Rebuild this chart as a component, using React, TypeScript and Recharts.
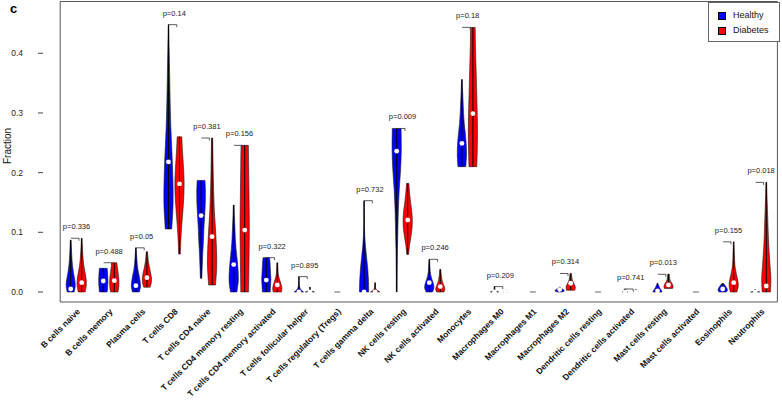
import React from 'react';
import { ComposedChart, Bar, Scatter, XAxis, YAxis, ReferenceArea, Legend } from 'recharts';

const FONT = "'Liberation Sans', Arial, Helvetica, sans-serif";

const cellTypes = [
  'B cells naive', 'B cells memory', 'Plasma cells', 'T cells CD8', 'T cells CD4 naive',
  'T cells CD4 memory resting', 'T cells CD4 memory activated', 'T cells follicular helper',
  'T cells regulatory (Tregs)', 'T cells gamma delta', 'NK cells resting', 'NK cells activated',
  'Monocytes', 'Macrophages M0', 'Macrophages M1', 'Macrophages M2', 'Dendritic cells resting',
  'Dendritic cells activated', 'Mast cells resting', 'Mast cells activated', 'Eosinophils', 'Neutrophils',
];

const pValues: (string | null)[] = [
  '0.336', '0.488', '0.05', '0.14', '0.381', '0.156', '0.322', '0.895', null, '0.732', '0.009',
  '0.246', '0.18', '0.209', null, '0.314', null, '0.741', '0.013', null, '0.155', '0.018',
];

const yTicks = [0, 0.1, 0.2, 0.3, 0.4];
const yDomain = [-0.0168, 0.4868];

// Healthy group: range, median, relative density from min (first) to max (last)
const healthyMin = [0, 0, 0, 0.1055, 0.023, 0, 0, 0, null, 0, 0, 0, 0.21, 0, null, 0, null, 0, 0, null, 0, 0];
const healthyMax = [0.087, 0.0397, 0.074, 0.448, 0.187, 0.1457, 0.0575, 0.0257, null, 0.153, 0.274, 0.0547, 0.356, 0.009, null, 0.008, null, 0.005, 0.0146, null, 0.014, 0.004];
const healthyMedian = [0.005, 0.0184, 0.0106, 0.218, 0.128, 0.046, 0.02, 0, null, 0, 0.236, 0.0156, 0.249, 0, null, 0.004, null, 0, 0.002, null, 0.005, 0];
const healthyDensity = [
  [0.75, 1, 0.85, 0.6, 0.4, 0.28, 0.2, 0.14, 0.08],
  [0.85, 0.9, 0.95, 1, 1, 0.98, 0.95, 0.9, 0.85],
  [0.75, 1, 0.9, 0.7, 0.45, 0.3, 0.2, 0.12, 0.06],
  [0.7, 1, 0.95, 0.75, 0.5, 0.35, 0.25, 0.15, 0.06],
  [0.15, 0.25, 0.35, 0.5, 0.6, 0.75, 0.9, 0.95, 0.85],
  [0.7, 1, 0.95, 0.75, 0.5, 0.35, 0.25, 0.15, 0.08],
  [0.85, 0.9, 0.95, 1, 0.95, 0.9, 0.85, 0.8, 0.7],
  [1, 0.5, 0.25, 0.12, 0.08, 0.06, 0.06, 0.06, 0.06],
  null,
  [1, 0.95, 0.8, 0.55, 0.3, 0.12, 0.06, 0.05, 0.04],
  [0.08, 0.1, 0.15, 0.25, 0.35, 0.55, 0.85, 1, 0.95],
  [0.7, 1, 0.9, 0.6, 0.35, 0.2, 0.15, 0.1, 0.06],
  [0.85, 1, 0.95, 0.75, 0.5, 0.35, 0.25, 0.15, 0.08],
  [0.9, 0.5, 0.25, 0.15, 0.1, 0.1, 0.1, 0.1, 0.1],
  null,
  [0.5, 0.9, 1, 0.95, 0.8, 0.6, 0.4, 0.25, 0.1],
  null,
  [0.6, 0.4, 0.3, 0.2, 0.2, 0.2, 0.2, 0.2, 0.2],
  [1, 0.9, 0.75, 0.6, 0.45, 0.35, 0.25, 0.15, 0.1],
  null,
  [0.7, 1, 1, 0.95, 0.85, 0.7, 0.55, 0.4, 0.2],
  [1, 0.6, 0.3, 0.15, 0.1, 0.1, 0.1, 0.1, 0.1],
];

// Diabetes group
const diabetesMin = [0, 0, 0.008, 0.0636, 0.0117, 0, 0, 0, null, 0, 0.063, 0, 0.21, 0, null, 0.003, null, 0, 0.006, null, 0, 0];
const diabetesMax = [0.09, 0.049, 0.0675, 0.26, 0.258, 0.2457, 0.049, 0.008, null, 0.0156, 0.182, 0.038, 0.4434, 0.003, null, 0.031, null, 0.004, 0.0297, null, 0.084, 0.1837];
const diabetesMedian = [0.0156, 0.019, 0.024, 0.181, 0.0927, 0.1038, 0.0117, 0, null, 0, 0.1206, 0.009, 0.299, 0, null, 0.0146, null, 0, 0.0117, null, 0.0156, 0.01];
const diabetesDensity = [
  [0.75, 1, 0.95, 0.7, 0.45, 0.3, 0.2, 0.12, 0.08],
  [0.8, 0.95, 1, 1, 0.95, 0.85, 0.75, 0.65, 0.55],
  [0.7, 0.95, 1, 0.85, 0.65, 0.45, 0.3, 0.2, 0.12],
  [0.2, 0.3, 0.5, 0.75, 0.95, 1, 0.85, 0.65, 0.5],
  [0.75, 1, 0.95, 0.75, 0.5, 0.35, 0.25, 0.18, 0.12],
  [0.85, 0.9, 0.95, 1, 1, 0.95, 0.9, 0.85, 0.8],
  [0.9, 1, 0.85, 0.6, 0.35, 0.2, 0.15, 0.12, 0.1],
  [1, 0.6, 0.3, 0.15, 0.1, 0.08, 0.08, 0.08, 0.08],
  null,
  [1, 0.6, 0.3, 0.15, 0.1, 0.08, 0.07, 0.06, 0.05],
  [0.2, 0.4, 0.7, 0.95, 1, 0.85, 0.6, 0.4, 0.25],
  [0.8, 1, 0.85, 0.6, 0.4, 0.3, 0.2, 0.15, 0.1],
  [0.85, 0.95, 1, 0.95, 0.85, 0.75, 0.65, 0.55, 0.5],
  [0.5, 0.3, 0.2, 0.2, 0.2, 0.2, 0.2, 0.2, 0.2],
  null,
  [0.9, 1, 0.95, 0.75, 0.5, 0.35, 0.25, 0.2, 0.15],
  null,
  [0.5, 0.3, 0.2, 0.2, 0.2, 0.2, 0.2, 0.2, 0.2],
  [0.9, 1, 0.9, 0.7, 0.45, 0.3, 0.25, 0.2, 0.2],
  null,
  [0.7, 1, 0.85, 0.55, 0.3, 0.2, 0.15, 0.1, 0.06],
  [0.9, 1, 0.8, 0.6, 0.45, 0.35, 0.25, 0.15, 0.08],
];

const tableData = cellTypes.map((name, i) => ({
  name,
  healthy: healthyMin[i] == null ? null : [healthyMin[i], healthyMax[i]],
  healthyMedian: healthyMedian[i],
  healthyDensity: healthyDensity[i],
  diabetes: diabetesMin[i] == null ? null : [diabetesMin[i], diabetesMax[i]],
  diabetesMedian: diabetesMedian[i],
  diabetesDensity: diabetesDensity[i],
  top: Math.max(healthyMax[i] ?? 0, diabetesMax[i] ?? 0),
  p: pValues[i],
}));

const HALF = 4.6;

// catmull-rom through points -> cubic bezier segments
const smooth = (pts: number[][]) => {
  let d = '';
  for (let i = 0; i < pts.length - 1; i++) {
    const p0 = pts[Math.max(i - 1, 0)];
    const p1 = pts[i];
    const p2 = pts[i + 1];
    const p3 = pts[Math.min(i + 2, pts.length - 1)];
    const c1x = p1[0] + (p2[0] - p0[0]) / 6;
    const c1y = p1[1] + (p2[1] - p0[1]) / 6;
    const c2x = p2[0] - (p3[0] - p1[0]) / 6;
    const c2y = p2[1] - (p3[1] - p1[1]) / 6;
    d += ` C${c1x},${c1y} ${c2x},${c2y} ${p2[0]},${p2[1]}`;
  }
  return d;
};

const makeViolin = (group: 'healthy' | 'diabetes', color: string) => (props: any) => {
  const { x, y, width, height, payload } = props;
  const range = payload[group];
  if (!range) return <g />;
  const [lo, hi] = range;
  const dens: number[] = payload[group + 'Density'];
  const med: number = payload[group + 'Median'];
  const cx = x + width / 2;
  const top = Math.min(y, y + height);
  const bottom = Math.max(y, y + height);
  const n = dens.length;
  const right = dens.map((w, i) => [cx + w * HALF, bottom - ((bottom - top) * i) / (n - 1)]);
  const left = dens.map((w, i) => [cx - w * HALF, bottom - ((bottom - top) * i) / (n - 1)]).reverse();
  const d =
    `M${left[n - 1][0]},${left[n - 1][1]} L${right[0][0]},${right[0][1]}` +
    smooth(right) +
    ` L${left[0][0]},${left[0][1]}` +
    smooth(left) +
    ' Z';
  const medY = hi === lo ? bottom : bottom - ((bottom - top) * (med - lo)) / (hi - lo);
  return (
    <g>
      <path d={d} fill={color} stroke="#1a1a1a" strokeWidth={0.6} />
      <line x1={cx} x2={cx} y1={top} y2={bottom} stroke="#000" strokeWidth={1} />
      <circle cx={cx} cy={medY} r={2.4} fill="#fff" />
    </g>
  );
};

const Annotation = (props: any) => {
  const { cx, cy, payload } = props;
  if (payload.p == null) {
    return <line x1={cx - 3} x2={cx + 3} y1={cy} y2={cy} stroke="#666" strokeWidth={1} />;
  }
  return (
    <g>
      <path d={`M${cx - 5.5},${cy} H${cx + 2.5} V${cy + 2.5}`} fill="none" stroke="#333" strokeWidth={0.8} />
      <text x={cx} y={cy - 9} textAnchor="middle" fontSize={7.5} fill="#222" fontFamily={FONT}>
        p={payload.p}
      </text>
    </g>
  );
};

const CellTick = (props: any) => {
  const { x, y, payload } = props;
  return (
    <text
      transform={`translate(${x + 2},${y + 8}) rotate(-45)`}
      textAnchor="end"
      dy="0.35em"
      fontSize={8.5}
      fontWeight="bold"
      fill="#111"
      fontFamily={FONT}
    >
      {payload.value}
    </text>
  );
};

const legendItems = [
  { label: 'Healthy', color: '#0000FF' },
  { label: 'Diabetes', color: '#FF0000' },
];

const LegendBox = () => (
  <div style={{ position: 'relative', width: 72, height: 40, border: '1px solid #666', background: '#fff', boxSizing: 'border-box', fontFamily: FONT }}>
    {legendItems.map((it, i) => (
      <div key={it.label}>
        <div style={{ position: 'absolute', left: 9, top: 9.5 + i * 15, width: 6, height: 6, background: it.color, border: '0.5px solid #000' }} />
        <div style={{ position: 'absolute', left: 24, top: 6 + i * 15, fontSize: 9, lineHeight: '12px', color: '#111' }}>{it.label}</div>
      </div>
    ))}
  </div>
);

export default function App() {
  return (
    <div style={{ position: 'absolute', left: 0, top: 0, width: 782, height: 401, background: '#fff', fontFamily: FONT }}>
      <div style={{ position: 'absolute', left: 10, top: 1, fontSize: 13, fontWeight: 'bold', color: '#000' }}>c</div>
      <div
        style={{
          position: 'absolute',
          left: 7,
          top: 146,
          fontSize: 10,
          color: '#111',
          transform: 'translate(-50%, -50%) rotate(-90deg)',
          whiteSpace: 'nowrap',
        }}
      >
        Fraction
      </div>
      <ComposedChart
        width={782}
        height={401}
        data={tableData}
        margin={{ top: 1.5, right: 1.5, bottom: 0, left: 0 }}
        barGap={0}
        style={{ position: 'absolute', left: 0, top: 0 }}
      >
        <XAxis
          dataKey="name"
          type="category"
          interval={0}
          padding={{ left: 17.2, right: 3.1 }}
          axisLine={false}
          tickLine={false}
          tickSize={0}
          tickMargin={0}
          height={99}
          tick={<CellTick />}
        />
        <YAxis
          type="number"
          domain={yDomain}
          ticks={yTicks}
          allowDataOverflow
          tickFormatter={(v: number) => v.toFixed(1)}
          axisLine={false}
          tickSize={5}
          tickMargin={15}
          tickLine={{ stroke: '#444' }}
          width={43}
          tick={{ fontSize: 8.5, fill: '#222', fontFamily: FONT }}
        />
        <ReferenceArea y1={yDomain[0]} y2={yDomain[1]} fill="none" stroke="#555" strokeWidth={1} ifOverflow="visible" />
        <Bar dataKey="healthy" name="Healthy" fill="#0000FF" barSize={11} shape={makeViolin('healthy', '#0000FF')} isAnimationActive={false} />
        <Bar dataKey="diabetes" name="Diabetes" fill="#FF0000" barSize={11} shape={makeViolin('diabetes', '#FF0000')} isAnimationActive={false} />
        <Scatter dataKey="top" shape={Annotation} isAnimationActive={false} />
        <Legend
          layout="vertical"
          align="center"
          verticalAlign="middle"
          wrapperStyle={{ left: 708, top: 1.5, width: 72, height: 40 }}
          content={() => <LegendBox />}
        />
      </ComposedChart>
    </div>
  );
}
